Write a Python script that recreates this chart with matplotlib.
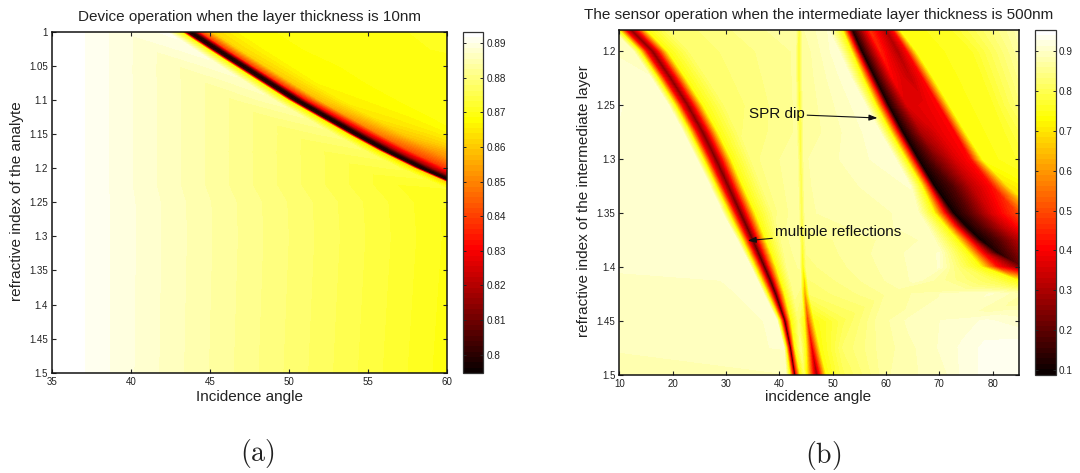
import matplotlib
matplotlib.use("Agg")
import matplotlib.pyplot as plt
from matplotlib.cm import ScalarMappable
from matplotlib.colors import Normalize
import numpy as np

plt.rcParams["font.family"] = ["Liberation Sans", "DejaVu Sans"]
plt.rcParams["mathtext.fontset"] = "cm"

# panel (a): each row of the mesh follows the dip, so angles differ per row
INDEX_A = [1.0, 1.025, 1.05, 1.075, 1.1, 1.125, 1.15, 1.175, 1.2, 1.225, 1.25, 1.3, 1.4, 1.5]
ANGLE_A = [
    [30, 36.7, 39.75, 42.25, 43.15, 43.45, 43.75, 44.05, 44.45, 45.25, 46.75, 50.75, 90],
    [30, 36.7, 41.4, 43.9, 44.8, 45.1, 45.4, 45.7, 46.1, 46.9, 48.4, 52.4, 90],
    [30, 36.7, 43.1, 45.6, 46.5, 46.8, 47.1, 47.4, 47.8, 48.6, 50.1, 54.1, 90],
    [30, 36.7, 44.8, 47.3, 48.2, 48.5, 48.8, 49.1, 49.5, 50.3, 51.8, 55.8, 90],
    [30, 36.7, 46.5, 49.0, 49.9, 50.2, 50.5, 50.8, 51.2, 52.0, 53.5, 57.5, 90],
    [30, 36.7, 48.4, 50.9, 51.8, 52.1, 52.4, 52.7, 53.1, 53.9, 55.4, 59.4, 90],
    [30, 36.7, 50.3, 52.8, 53.7, 54.0, 54.3, 54.6, 55.0, 55.8, 57.3, 61.3, 90],
    [30, 36.7, 52.3, 54.8, 55.7, 56.0, 56.3, 56.6, 57.0, 57.8, 59.3, 63.3, 90],
    [30, 36.7, 54.5, 57.0, 57.9, 58.2, 58.5, 58.8, 59.2, 60.0, 61.5, 65.5, 90],
    [30, 36.7, 57.0, 59.5, 60.4, 60.7, 61.0, 61.3, 61.7, 62.5, 64.0, 68.0, 90],
    [30, 36.7, 59.4, 61.9, 62.8, 63.1, 63.4, 63.7, 64.1, 64.9, 66.4, 70.4, 90],
    [30, 36.7, 60.0, 62.5, 63.4, 63.7, 64.0, 64.3, 64.7, 65.5, 67.0, 71.0, 90],
    [30, 36.7, 60.0, 62.5, 63.4, 63.7, 64.0, 64.3, 64.7, 65.5, 67.0, 71.0, 90],
    [30, 36.7, 60.0, 62.5, 63.4, 63.7, 64.0, 64.3, 64.7, 65.5, 67.0, 71.0, 90],
]
REFLECT_A = [
    [.8935, .892, .8889, .8905, .868, .804, .795, .802, .840, .862, .867, .8695, .873],
    [.8935, .892, .8873, .8895, .868, .804, .795, .802, .840, .862, .867, .8695, .873],
    [.8935, .892, .8855, .8880, .867, .804, .795, .802, .840, .861, .867, .8690, .873],
    [.8935, .892, .8838, .8865, .867, .804, .795, .802, .838, .860, .867, .8690, .873],
    [.8935, .892, .8821, .8850, .866, .804, .795, .801, .833, .858, .866, .8690, .873],
    [.8935, .892, .8802, .8825, .865, .803, .795, .800, .828, .853, .864, .8690, .873],
    [.8935, .892, .8783, .8800, .864, .803, .795, .800, .823, .848, .860, .8690, .873],
    [.8935, .892, .8762, .8775, .863, .802, .795, .800, .820, .842, .853, .8690, .873],
    [.8935, .892, .8740, .8750, .862, .802, .795, .800, .818, .838, .851, .8690, .873],
    [.8935, .892, .8715, .8720, .861, .802, .795, .800, .818, .838, .851, .8690, .873],
    [.8935, .892, .8702, .8700, .870, .870, .870, .870, .870, .870, .870, .8700, .873],
    [.8935, .892, .8698, .8690, .869, .869, .869, .869, .869, .869, .869, .8690, .869],
    [.8935, .892, .8695, .8680, .868, .868, .868, .868, .868, .868, .868, .8680, .868],
    [.8935, .892, .8692, .8675, .867, .867, .867, .867, .867, .867, .867, .8670, .867],
]

# panel (b)
INDEX_B = [1.18, 1.2, 1.225, 1.25, 1.275, 1.3, 1.325, 1.35, 1.3625, 1.375, 1.3875, 1.4, 1.4125, 1.425,
           1.45, 1.475, 1.5]
ANGLE_B = [
    [2, 8.5, 9.7, 10.95, 12.2, 13.45, 15.2, 19.2, 43.0, 43.7, 44.4, 49.2, 51.7, 52.7, 53.6, 57, 60, 61.4, 62.7, 72, 86],
    [2, 12.5, 13.7, 14.95, 16.2, 17.45, 19.2, 23.2, 43.0, 43.7, 44.4, 51, 53.4, 54.5, 55.4, 59, 62.2, 64, 65.8, 76, 86],
    [2, 15.9, 17.1, 18.35, 19.6, 20.85, 22.6, 26.6, 43.0, 43.7, 44.4, 53.3, 55.6, 56.9, 57.9, 61.3, 64.6, 67, 69, 78, 86],
    [2, 19.1, 20.3, 21.55, 22.8, 24.05, 25.8, 29.8, 43.1, 43.8, 44.5, 56, 58, 59.4, 60.4, 64, 67.5, 70, 72, 80, 86],
    [2, 21.9, 23.1, 24.35, 25.6, 26.85, 28.6, 32.6, 43.2, 43.9, 44.6, 58.7, 60.7, 62.1, 63.1, 66.7, 70.2, 73, 75, 82, 88],
    [2, 24.4, 25.6, 26.85, 28.1, 29.35, 31.1, 35, 43.3, 44, 44.7, 61.6, 63.6, 65, 66, 69.6, 73.1, 76, 78.2, 84, 90],
    [2, 26.9, 28, 29.2, 30.4, 31.6, 33.3, 37, 43.4, 44.1, 44.8, 64.5, 66.6, 68, 69, 72.5, 76, 80, 83, 88, 95],
    [2, 29.3, 30.4, 31.6, 32.7, 33.9, 35.6, 39, 43.5, 44.2, 44.9, 66, 68.9, 70.9, 72.6, 76, 80, 85, 89, 92, 100],
    [2, 30.6, 31.6, 32.8, 33.85, 35, 36.6, 39.8, 43.55, 44.25, 44.95, 67.5, 71, 73, 75, 78.5, 82, 86.5, 91, 94, 102],
    [2, 32, 32.9, 34, 35, 36.1, 37.6, 40.5, 43.6, 44.3, 45, 69, 73.2, 75.6, 77.6, 81, 84.5, 89, 92, 95, 105],
    [2, 33.3, 34.1, 35.2, 36.1, 37.1, 38.6, 41, 43.7, 44.35, 45.05, 70, 75.4, 78, 81, 84, 87, 90, 93, 96, 107],
    [2, 34.6, 35.3, 36.4, 37.2, 38.1, 39.5, 41.5, 43.8, 44.4, 45.1, 70, 77.6, 80.8, 85.5, 88, 90, 92, 94, 96, 110],
    [2, 35.8, 36.5, 37.5, 38.3, 39.1, 40.3, 42.2, 43.9, 44.7, 45.4, 66, 80, 84.5, 90, 91, 92, 94, 95, 97, 110],
    [2, 37, 37.7, 38.6, 39.3, 40, 41.1, 42.8, 44, 44.8, 45.7, 60, 72, 80, 88, 90, 92, 94, 96, 98, 110],
    [2, 39.5, 40, 40.6, 41, 41.5, 42.3, 43.6, 44.6, 45.3, 46.6, 52, 58.2, 64.5, 70.8, 74.2, 78.6, 85, 90, 95, 110],
    [2, 40.8, 41.2, 41.7, 42.1, 42.4, 43, 44, 44.9, 46.1, 47.7, 52, 58.5, 64, 70, 74.2, 78.6, 83, 90, 95, 110],
    [2, 41.2, 41.9, 42.5, 42.9, 43.2, 44, 44.6, 45.1, 47, 48.9, 52, 60.2, 66, 72, 74.2, 78.6, 83, 90, 95, 110],
]
REFLECT_B = [
    [.90, .88, .74, .42, .24, .42, .74, .82, .87, .76, .87, .90, .74, .42, .10, .46, .30, .42, .74, .76, .89],
    [.91, .89, .74, .42, .24, .42, .74, .82, .86, .76, .86, .91, .74, .42, .09, .44, .30, .41, .74, .76, .88],
    [.92, .90, .74, .42, .24, .42, .74, .82, .86, .76, .86, .91, .74, .42, .09, .40, .33, .41, .74, .76, .86],
    [.92, .905, .74, .42, .24, .42, .74, .82, .86, .76, .86, .91, .74, .42, .09, .36, .38, .41, .74, .76, .84],
    [.92, .90, .74, .42, .23, .42, .74, .83, .86, .77, .86, .91, .74, .42, .09, .30, .38, .41, .74, .76, .82],
    [.90, .90, .74, .42, .22, .42, .74, .84, .87, .78, .87, .91, .74, .42, .09, .24, .36, .42, .74, .76, .80],
    [.90, .90, .74, .42, .22, .42, .74, .84, .87, .78, .87, .90, .74, .42, .09, .18, .32, .42, .70, .74, .80],
    [.90, .90, .74, .42, .20, .42, .74, .84, .87, .78, .87, .89, .74, .42, .09, .20, .36, .50, .70, .74, .80],
    [.90, .90, .74, .42, .19, .42, .74, .85, .87, .775, .86, .895, .74, .42, .09, .20, .33, .46, .70, .74, .80],
    [.90, .90, .74, .42, .18, .42, .74, .85, .87, .77, .85, .89, .74, .42, .09, .18, .30, .42, .70, .74, .80],
    [.90, .90, .74, .42, .165, .42, .74, .85, .865, .745, .845, .90, .74, .42, .12, .22, .33, .50, .70, .74, .80],
    [.90, .90, .74, .42, .15, .42, .74, .85, .86, .72, .84, .90, .74, .42, .22, .30, .40, .55, .70, .74, .80],
    [.895, .90, .74, .42, .14, .42, .74, .85, .85, .65, .83, .89, .80, .74, .50, .50, .55, .60, .70, .74, .80],
    [.893, .90, .74, .42, .13, .42, .74, .85, .84, .58, .82, .86, .89, .90, .86, .84, .84, .84, .84, .84, .84],
    [.885, .90, .74, .42, .11, .42, .74, .82, .74, .45, .74, .80, .86, .89, .90, .905, .915, .905, .90, .90, .90],
    [.885, .90, .74, .42, .09, .42, .74, .84, .74, .35, .74, .82, .86, .88, .90, .915, .93, .935, .935, .935, .935],
    [.885, .885, .74, .42, .09, .42, .74, .80, .72, .26, .74, .80, .87, .885, .90, .915, .93, .935, .935, .935, .935],
]

XTICKS_A = [35, 40, 45, 50, 55, 60]
YTICKS_A = [1, 1.05, 1.1, 1.15, 1.2, 1.25, 1.3, 1.35, 1.4, 1.45, 1.5]
CTICKS_A = [0.8, 0.81, 0.82, 0.83, 0.84, 0.85, 0.86, 0.87, 0.88, 0.89]
XTICKS_B = [10, 20, 30, 40, 50, 60, 70, 80]
YTICKS_B = [1.2, 1.25, 1.3, 1.35, 1.4, 1.45, 1.5]
CTICKS_B = [0.1, 0.2, 0.3, 0.4, 0.5, 0.6, 0.7, 0.8, 0.9]

W, H = 1080, 473
INK = "#222222"


def px_axes(fig, left, top, right, bottom):
    return fig.add_axes([left / W, 1 - bottom / H, (right - left) / W, (bottom - top) / H])


def draw_panel(fig, box, cbox, angle, index, reflect, vmin, vmax, xlim, ylim,
               xticks, yticks, cticks, title, xlabel, ylabel, title_xy, xlabel_xy, ylabel_xy):
    ax = px_axes(fig, *box)
    rows = np.array(index)[:, None] * np.ones_like(np.array(angle, dtype=float))
    levels = np.linspace(vmin, vmax, 65)
    cmap = plt.get_cmap("hot", 64)
    ax.contourf(np.array(angle), rows, np.array(reflect), levels=levels, cmap=cmap, extend="both")
    ax.set_xlim(xlim)
    ax.set_ylim(ylim)
    ax.set_xticks(xticks)
    ax.set_yticks(yticks)
    ax.set_xticklabels([f"{v:g}" for v in xticks])
    ax.set_yticklabels([f"{v:g}" for v in yticks])
    ax.tick_params(direction="in", top=True, right=True, length=3, width=0.8,
                   labelsize=7, pad=3, colors=INK)
    for s in ax.spines.values():
        s.set_linewidth(1.1)
        s.set_color("#111111")
    fig.text(title_xy[0] / W, 1 - title_xy[1] / H, title, ha="center", va="center",
             fontsize=11, color=INK)
    fig.text(xlabel_xy[0] / W, 1 - xlabel_xy[1] / H, xlabel, ha="center", va="center",
             fontsize=11, color=INK)
    fig.text(ylabel_xy[0] / W, 1 - ylabel_xy[1] / H, ylabel, ha="center", va="center",
             rotation=90, fontsize=11, color=INK)

    cax = px_axes(fig, *cbox)
    cb = fig.colorbar(ScalarMappable(Normalize(vmin, vmax), cmap), cax=cax)
    cb.set_ticks(cticks)
    cb.set_ticklabels([f"{v:g}" for v in cticks])
    cax.tick_params(direction="in", left=True, right=True, length=2.5, width=0.7,
                    labelsize=7.2, pad=2, colors=INK)
    cb.outline.set_linewidth(0.9)
    cb.outline.set_edgecolor("#333333")
    return ax


fig = plt.figure(figsize=(W / 100, H / 100), dpi=100)

draw_panel(fig, (52, 32, 446.5, 372.7), (463.1, 32, 483.4, 373), ANGLE_A, INDEX_A, REFLECT_A,
           0.7947, 0.8932, (35, 60), (1.5, 1), XTICKS_A, YTICKS_A, CTICKS_A,
           "Device operation when the layer thickness is 10nm", "Incidence angle",
           "refractive index of the analyte", (250, 17), (249.3, 396.5), (17, 201.5))

ax_b = draw_panel(fig, (619.4, 29.7, 1019.3, 374.6), (1035.2, 29.7, 1055.5, 374.6), ANGLE_B, INDEX_B, REFLECT_B,
                  0.089, 0.953, (10, 85), (1.5, 1.18), XTICKS_B, YTICKS_B, CTICKS_B,
                  "The sensor operation when the intermediate layer thickness is 500nm", "incidence angle",
                  "refractive index of the intermediate layer", (818.6, 15), (818, 397.5), (584, 201))

head = "-|>,head_length=0.45,head_width=0.16"
ax_b.annotate("SPR dip", xy=(58.4, 1.2619), xytext=(44.7, 1.2582), ha="right", va="center",
              fontsize=11, color="#111111",
              arrowprops=dict(arrowstyle=head, lw=0.8, color="#111111", shrinkA=0, shrinkB=0))
ax_b.annotate("multiple reflections", xy=(34.06, 1.3757), xytext=(39.2, 1.3679), ha="left", va="center",
              fontsize=11, color="#111111",
              arrowprops=dict(arrowstyle=head, lw=0.8, color="#111111", shrinkA=0, shrinkB=0))

fig.text(257 / W, 1 - 453 / H, r"$\mathrm{(a)}$", ha="center", va="center", fontsize=20, color=INK)
fig.text(823 / W, 1 - 455 / H, r"$\mathrm{(b)}$", ha="center", va="center", fontsize=20, color=INK)

fig.savefig("out.png", dpi=100)
